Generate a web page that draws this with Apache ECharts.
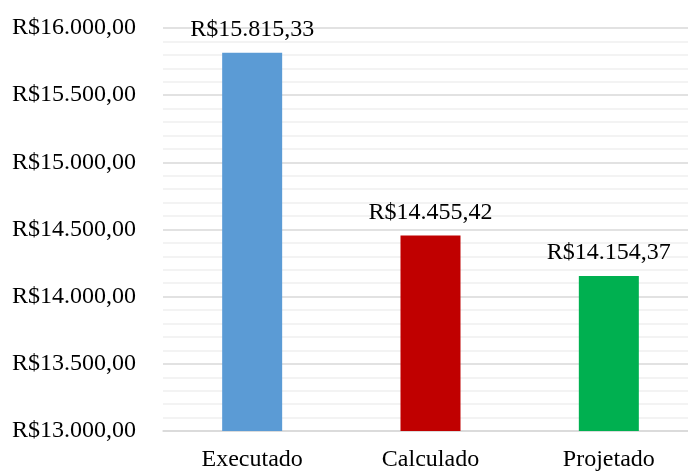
<!DOCTYPE html>
<html>
<head>
<meta charset="utf-8">
<script src="https://cdn.jsdelivr.net/npm/echarts@6/dist/echarts.min.js"></script>
<style>
  html, body { margin: 0; padding: 0; background: #fff; }
  #chart { width: 688px; height: 472px; }
</style>
</head>
<body>
<div id="chart"></div>
<script>
const categories = ['Executado', 'Calculado', 'Projetado']
const values = [15815.33, 14455.42, 14154.37]
const barColors = ['#5B9BD5', '#C00000', '#00B050']

// formato R$ 15.815,33
function brl(v) {
  const parts = v.toFixed(2).split('.')
  const inteiro = parts[0].replace(/\B(?=(\d{3})+(?!\d))/g, '.')
  return 'R$' + inteiro + ',' + parts[1]
}

const font = '"Liberation Serif", "Times New Roman", serif'
const chart = echarts.init(document.getElementById('chart'))

const option = {
  animation: false,
  textStyle: { fontFamily: font },
  grid: { left: 163, top: 28, width: 535, height: 403, containLabel: false, outerBoundsMode: 'none' },
  xAxis: {
    type: 'category',
    data: categories,
    axisLine: { show: true, lineStyle: { color: '#d9d9d9', width: 1.5 } },
    axisTick: { show: false },
    axisLabel: { color: '#000', fontSize: 24, fontFamily: font, margin: 17 }
  },
  yAxis: {
    type: 'value',
    min: 13000,
    max: 16000,
    interval: 500,
    axisLine: { show: false },
    axisTick: { show: false },
    axisLabel: { color: '#000', fontSize: 24, fontFamily: font, margin: 27, formatter: v => brl(v) },
    splitLine: { lineStyle: { color: '#d9d9d9', width: 1.5 } },
    minorTick: { show: false, splitNumber: 5 },
    minorSplitLine: { show: true, lineStyle: { color: '#f0f0f0', width: 1.5 } }
  },
  series: [{
    type: 'bar',
    barWidth: 60,
    data: values.map((v, i) => ({ value: v, itemStyle: { color: barColors[i] } })),
    label: {
      show: true,
      position: 'top',
      distance: 11,
      color: '#000',
      fontSize: 24,
      fontFamily: font,
      formatter: p => brl(p.value)
    }
  }]
}

chart.setOption(option)
</script>
</body>
</html>
